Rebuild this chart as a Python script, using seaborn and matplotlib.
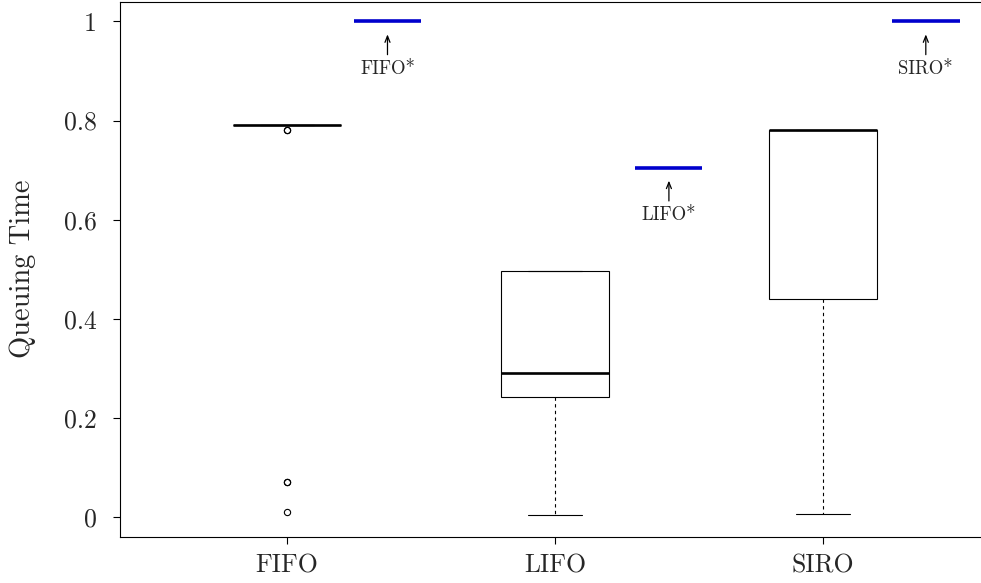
import pandas as pd
import matplotlib.pyplot as plt
import seaborn as sns

# ==============================================================================
# Tiempo de espera en cola por disciplina (FIFO / LIFO / SIRO)
# ==============================================================================

policies = ["FIFO", "LIFO", "SIRO"]

# muestras de cada disciplina
fifo_times = [0.79] * 20 + [0.78, 0.78, 0.07, 0.07, 0.01]
lifo_times = [0.005, 0.10, 0.243, 0.26, 0.29, 0.497, 0.497, 0.497, 0.497]
siro_times = [0.006, 0.20, 0.44, 0.60, 0.78, 0.78, 0.78, 0.78, 0.78]

# valores de referencia (linea azul) y sus etiquetas
star_labels = ["FIFO*", "LIFO*", "SIRO*"]
star_values = [1.0, 0.705, 1.0]

df = pd.DataFrame({
    "policy": ["FIFO"] * len(fifo_times) + ["LIFO"] * len(lifo_times) + ["SIRO"] * len(siro_times),
    "time": fifo_times + lifo_times + siro_times,
})

sns.set_style("ticks")
plt.rcParams["font.family"] = ["cmr10"]
plt.rcParams["mathtext.fontset"] = "cm"
plt.rcParams["axes.unicode_minus"] = False

fig = plt.figure(figsize=(9.81, 5.83), dpi=100)
ax = fig.add_axes([120 / 981, 1 - 537 / 583, 870 / 981, 535.5 / 583])

sns.boxplot(
    data=df, x="policy", y="time", order=policies, ax=ax,
    width=0.4, color="white", linecolor="black", linewidth=0.8,
    whiskerprops={"linestyle": (0, (3, 3))},
    medianprops={"linewidth": 1.9, "color": "black"},
    flierprops={"marker": "o", "markersize": 4.5, "markerfacecolor": "none",
                "markeredgecolor": "black", "markeredgewidth": 0.8},
)

# lineas azules a la derecha de cada caja (inicio/fin relativos a la categoria)
star_offsets = [(0.25, 0.5), (0.3, 0.55), (0.257, 0.51)]
for i, (lab, val) in enumerate(zip(star_labels, star_values)):
    x0, x1 = i + star_offsets[i][0], i + star_offsets[i][1]
    xc = (x0 + x1) / 2
    ax.hlines(val, x0, x1, color="#0000CD", linewidth=2.6, zorder=5)
    # flecha desde la etiqueta hacia la linea
    ax.annotate("", xy=(xc, val), xycoords="data",
                xytext=(0, -24), textcoords="offset points",
                arrowprops=dict(arrowstyle="->,head_length=0.45,head_width=0.18", lw=0.9,
                                color="black", shrinkA=0, shrinkB=9.4))
    ax.annotate(lab, xy=(xc, val), xycoords="data", xytext=(0, -28),
                textcoords="offset points", ha="center", va="top", fontsize=13.5)

ax.set_xlim(-0.623, 2.623)
ax.set_ylim(-0.04, 1.04)
ax.set_yticks([0, 0.2, 0.4, 0.6, 0.8, 1.0])
ax.set_yticklabels(["0", "0.2", "0.4", "0.6", "0.8", "1"])
ax.set_xticks(range(len(policies)))
ax.set_xticklabels(policies)
ax.tick_params(axis="both", direction="out", length=5, width=0.8, labelsize=18.5, color="black")
ax.tick_params(axis="y", pad=12)
ax.tick_params(axis="x", pad=7)
ax.set_xlabel("")
ax.set_ylabel("Queuing Time", fontsize=20.5)
ax.yaxis.set_label_coords(-0.097, 0.5)

for side in ["left", "bottom", "top"]:
    ax.spines[side].set_visible(True)
    ax.spines[side].set_color("black")
    ax.spines[side].set_linewidth(0.8)
ax.spines["right"].set_visible(False)

plt.savefig("out.png", dpi=100)
plt.close()
